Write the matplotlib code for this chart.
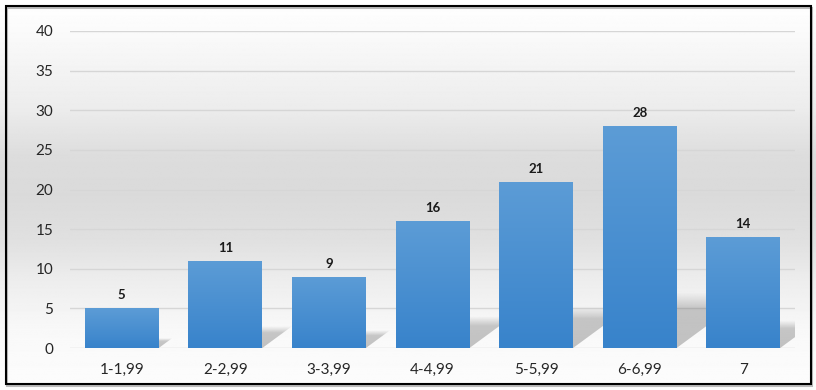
import numpy as np
import matplotlib
matplotlib.use("Agg")
import matplotlib.pyplot as plt
from matplotlib.patches import Polygon, Rectangle
from matplotlib.colors import LinearSegmentedColormap

categories = ["1-1,99", "2-2,99", "3-3,99", "4-4,99", "5-5,99", "6-6,99", "7"]
values = [5, 11, 9, 16, 21, 28, 14]
yticks = [0, 5, 10, 15, 20, 25, 30, 35, 40]

plt.rcParams['font.family'] = ['Lato', 'DejaVu Sans']

W, H = 816, 390
fig = plt.figure(figsize=(W / 100, H / 100), dpi=100)
fig.patch.set_facecolor('white')

# background gradient (figure-level)
bg = fig.add_axes([0, 0, 1, 1], zorder=-10)
bg.set_axis_off()
ys = np.linspace(0, 1, 400)  # 0 = top
stops_y = [0.0, 0.03, 0.28, 0.40, 0.50, 0.62, 0.72, 0.85, 1.0]
stops_c = [1.0, 0.995, 0.925, 0.865, 0.855, 0.88, 0.93, 0.975, 0.99]
col = np.interp(ys, stops_y, stops_c)
img = np.repeat(col[:, None], 10, axis=1)
bg.imshow(img, cmap='gray', vmin=0, vmax=1, aspect='auto', extent=[0, 1, 0, 1])
bg.set_xlim(0, 1)
bg.set_ylim(0, 1)

# main axes
left, right = 70 / W, 795 / W
top, bottom = 31 / H, 348 / H
ax = fig.add_axes([left, 1 - bottom, right - left, bottom - top])
ax.set_facecolor('none')
x = np.arange(len(categories))
bw = 0.714
ax.set_xlim(-0.5, len(categories) - 0.5)
ax.set_ylim(0, 40)
ax.set_yticks(yticks)
ax.set_xticks(x)
ax.set_xticklabels(categories)
for s in ax.spines.values():
    s.set_visible(False)
ax.tick_params(axis='both', length=0, labelsize=11, labelcolor='#262626')
ax.tick_params(axis='y', pad=12)
ax.tick_params(axis='x', pad=11)
ax.yaxis.grid(True, color='#d6d6d6', linewidth=1.0, zorder=0)
ax.set_axisbelow(True)

# shadows (perspective, skewed up-right)
shadow_cmap = LinearSegmentedColormap.from_list(
    'sh', [(0.45, 0.45, 0.45, 0.0), (0.45, 0.45, 0.45, 0.42)])
for xi, v in zip(x, values):
    x0, x1 = xi - bw / 2, xi + bw / 2
    sx = 0.026 * v
    sy = 0.25 * v
    poly = Polygon([[x0, 0], [x1, 0], [x1 + sx, sy], [x0 + sx, sy]],
                   closed=True, facecolor='none', edgecolor='none', zorder=1)
    ax.add_patch(poly)
    vy = np.linspace(0, 1, 60)  # 0 bottom, 1 top
    vert = np.clip((1 - vy) / 0.3, 0, 1)
    vert = vert * np.clip(0.85 + 0.15 * (1 - vy), 0, 1)
    a = vert[:, None] * np.ones((1, 60))
    im = ax.imshow(a, cmap=shadow_cmap, vmin=0, vmax=1, aspect='auto',
                   extent=[x0, x1 + sx, 0, sy], origin='lower', zorder=1,
                   interpolation='bilinear')
    im.set_clip_path(poly)

# bars with gradient
bars = ax.bar(x, values, width=bw, color='#4a90d2', zorder=2, linewidth=0)
bar_cmap = LinearSegmentedColormap.from_list('b', ['#3883cb', '#5c9cd6'])
for b in bars:
    bx, by = b.get_x(), b.get_y()
    bwid, bh = b.get_width(), b.get_height()
    g = np.linspace(0, 1, 100)[:, None]
    im = ax.imshow(g, cmap=bar_cmap, aspect='auto', origin='lower',
                   extent=[bx, bx + bwid, by, by + bh], zorder=3,
                   interpolation='bilinear')
    im.set_clip_path(b)

# data labels
for xi, v in zip(x, values):
    ax.annotate(str(v), (xi, v), xytext=(0, 5), textcoords='offset points',
                ha='center', va='bottom', fontsize=9.5, fontweight='bold',
                color='#1a1a1a', zorder=5)

ax.set_xlim(-0.5, len(categories) - 0.5)
ax.set_ylim(0, 40)

# outer border
fig.add_artist(Rectangle((7 / W, 1 - 386 / H), 805 / W, 378 / H,
                         transform=fig.transFigure, fill=False,
                         edgecolor='#bbbbbb', linewidth=1.5, zorder=19))
fig.add_artist(Rectangle((6 / W, 1 - 384 / H), 805 / W, 378 / H,
                         transform=fig.transFigure, fill=False,
                         edgecolor='black', linewidth=1.5, zorder=20))

fig.savefig('out.png', dpi=100)
